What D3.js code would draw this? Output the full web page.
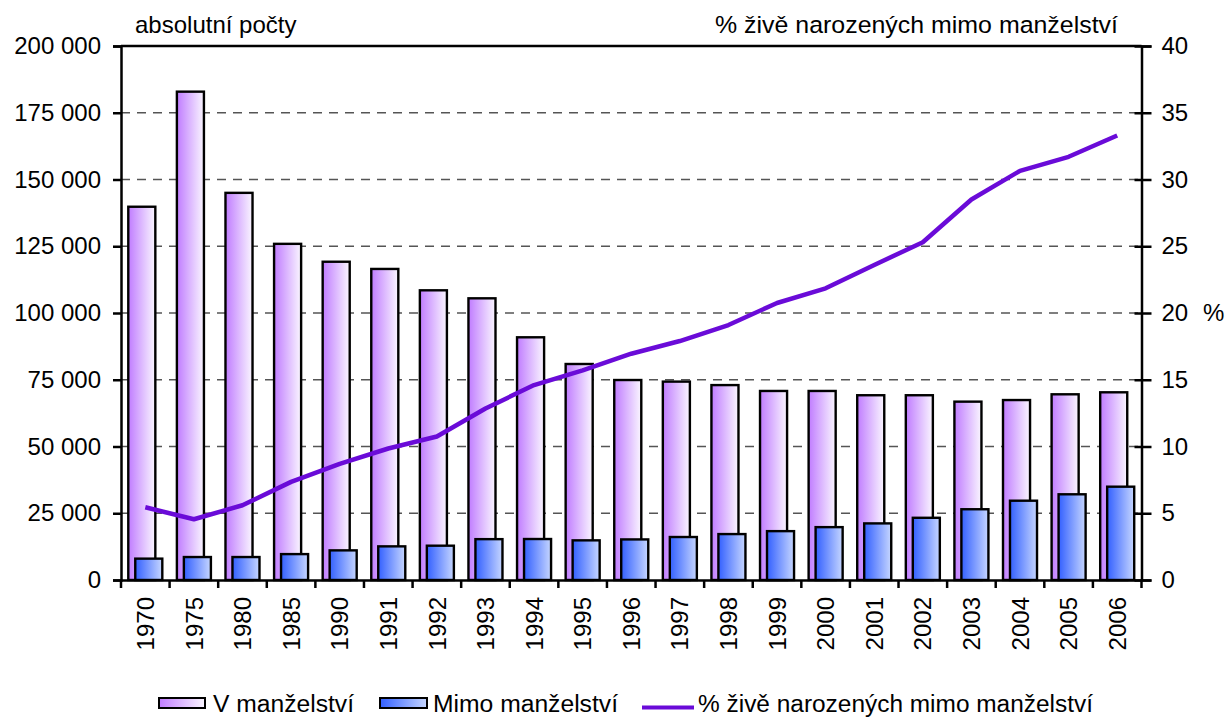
<!DOCTYPE html>
<html>
<head>
<meta charset="utf-8">
<script src="https://cdn.jsdelivr.net/npm/d3@7"></script>
<style>
  html, body { margin: 0; padding: 0; background: #fff; }
  svg { display: block; }
  text { font-family: "Liberation Sans", Arial, sans-serif; fill: #000; }
</style>
</head>
<body>
<svg id="chart" width="1227" height="722"></svg>
<script>
// ---- data ----
const years = ["1970","1975","1980","1985","1990","1991","1992","1993","1994","1995","1996","1997","1998","1999","2000","2001","2002","2003","2004","2005","2006"];
const vManzelstvi = [139800,182900,145000,125900,119200,116500,108500,105500,90900,80900,74900,74300,73000,70800,70800,69200,69200,66800,67400,69550,70300];
const mimoManzelstvi = [8000,8600,8600,9700,11100,12600,12850,15300,15350,14850,15200,16100,17200,18300,19800,21200,23300,26500,29700,32100,34950];
const pctMimo = [5.45,4.55,5.6,7.35,8.7,9.85,10.75,12.85,14.6,15.7,16.95,17.9,19.1,20.75,21.85,23.6,25.3,28.5,30.65,31.7,33.3];
const leftTicks = [0,25000,50000,75000,100000,125000,150000,175000,200000];
const rightTicks = [0,5,10,15,20,25,30,35,40];
const seriesNames = ["V manželství","Mimo manželství","% živě narozených mimo manželství"];
const leftTitle = "absolutní počty";
const rightTitle = "% živě narozených mimo manželství";
const rightUnit = "%";

// ---- layout ----
const svg = d3.select("#chart");
const L = 121, R = 1141.5, T = 46, B = 580;

const x = d3.scaleBand().domain(years).range([L, R]).paddingInner(0).paddingOuter(0);
const yL = d3.scaleLinear().domain([0, 200000]).range([B, T]);
const yR = d3.scaleLinear().domain([0, 40]).range([B, T]);

const fmt = v => d3.format(",")(v).replace(/,/g, " ");

// gradients
const defs = svg.append("defs");
function grad(id, c0, c1) {
  const g = defs.append("linearGradient").attr("id", id).attr("x1", "0%").attr("x2", "100%").attr("y1", "0%").attr("y2", "0%");
  g.append("stop").attr("offset", "0%").attr("stop-color", c0);
  g.append("stop").attr("offset", "100%").attr("stop-color", c1);
}
grad("gV", "#c07cff", "#faf6ff");
grad("gM", "#3360ff", "#c6d6ff");

// gridlines
svg.append("g").selectAll("line")
  .data(leftTicks.filter(t => t > 0 && t < 200000))
  .join("line")
  .attr("x1", L).attr("x2", R)
  .attr("y1", d => yL(d)).attr("y2", d => yL(d))
  .attr("stroke", "#555").attr("stroke-width", 1.3)
  .attr("stroke-dasharray", "9,7");

// bars
const bw = x.bandwidth();
const groupW = bw * 0.70;
const barW = groupW * 0.795;
const off = groupW - barW;
const g0 = (bw - groupW) / 2;

svg.append("g").selectAll("rect")
  .data(years.map((y, i) => ({ y, v: vManzelstvi[i] })))
  .join("rect")
  .attr("x", d => x(d.y) + g0)
  .attr("y", d => yL(d.v))
  .attr("width", barW)
  .attr("height", d => B - yL(d.v))
  .attr("fill", "url(#gV)")
  .attr("stroke", "#000").attr("stroke-width", 2.4);

svg.append("g").selectAll("rect")
  .data(years.map((y, i) => ({ y, v: mimoManzelstvi[i] })))
  .join("rect")
  .attr("x", d => x(d.y) + g0 + off)
  .attr("y", d => yL(d.v))
  .attr("width", barW)
  .attr("height", d => B - yL(d.v))
  .attr("fill", "url(#gM)")
  .attr("stroke", "#000").attr("stroke-width", 2.4);

// line
const line = d3.line()
  .x((d, i) => x(years[i]) + bw / 2)
  .y(d => yR(d));
svg.append("path")
  .datum(pctMimo)
  .attr("d", line)
  .attr("fill", "none")
  .attr("stroke", "#6a0bd8")
  .attr("stroke-width", 4.5)
  .attr("stroke-linejoin", "round");

// frame top
svg.append("line").attr("x1", L).attr("x2", R).attr("y1", T).attr("y2", T)
  .attr("stroke", "#000").attr("stroke-width", 2.5);

// left axis
const axL = svg.append("g").attr("transform", `translate(${L},0)`)
  .call(d3.axisLeft(yL).tickValues(leftTicks).tickFormat(fmt).tickSize(8).tickPadding(12));
axL.select(".domain").attr("stroke", "#000").attr("stroke-width", 2.5);
axL.selectAll(".tick line").attr("stroke", "#000").attr("stroke-width", 2.5);
axL.selectAll(".tick text").attr("font-size", 24).attr("font-family", "Liberation Sans, Arial, sans-serif").attr("fill", "#000");

// right axis
const axR = svg.append("g").attr("transform", `translate(${R},0)`)
  .call(d3.axisRight(yR).tickValues(rightTicks).tickSize(10).tickPadding(10));
axR.select(".domain").attr("stroke", "#000").attr("stroke-width", 2.5);
axR.selectAll(".tick line").attr("stroke", "#000").attr("stroke-width", 2.5).attr("x1", -7);
axR.selectAll(".tick text").attr("font-size", 24).attr("font-family", "Liberation Sans, Arial, sans-serif").attr("fill", "#000");

// bottom axis
const axB = svg.append("g").attr("transform", `translate(0,${B})`)
  .call(d3.axisBottom(x).tickSize(0).tickPadding(0));
axB.select(".domain").attr("stroke", "#000").attr("stroke-width", 2.5);
axB.selectAll(".tick text")
  .attr("font-size", 24).attr("font-family", "Liberation Sans, Arial, sans-serif").attr("fill", "#000")
  .attr("text-anchor", "end")
  .attr("transform", "rotate(-90)")
  .attr("x", -17).attr("y", 0).attr("dy", "0.36em");
// category boundary ticks
const bounds = years.map(y => x(y)).concat([R]);
svg.append("g").selectAll("line").data(bounds).join("line")
  .attr("x1", d => d).attr("x2", d => d)
  .attr("y1", B).attr("y2", B + 8)
  .attr("stroke", "#000").attr("stroke-width", 2.5);

// titles
svg.append("text").attr("x", 135).attr("y", 33).attr("font-size", 24).text(leftTitle);
svg.append("text").attr("x", 1118).attr("y", 33).attr("font-size", 24.5).attr("text-anchor", "end")
  .attr("textLength", 403).attr("lengthAdjust", "spacingAndGlyphs").text(rightTitle);
svg.append("text").attr("x", 1203).attr("y", 321).attr("font-size", 24).text(rightUnit);

// legend
const lg = svg.append("g");
lg.append("rect").attr("x", 159).attr("y", 698).attr("width", 46).attr("height", 10)
  .attr("fill", "url(#gV)").attr("stroke", "#000").attr("stroke-width", 2);
lg.append("text").attr("x", 213).attr("y", 712).attr("font-size", 23)
  .attr("textLength", 141).attr("lengthAdjust", "spacingAndGlyphs").text(seriesNames[0]);
lg.append("rect").attr("x", 380).attr("y", 698).attr("width", 47).attr("height", 10)
  .attr("fill", "url(#gM)").attr("stroke", "#000").attr("stroke-width", 2);
lg.append("text").attr("x", 433).attr("y", 712).attr("font-size", 23)
  .attr("textLength", 185).attr("lengthAdjust", "spacingAndGlyphs").text(seriesNames[1]);
lg.append("line").attr("x1", 642).attr("x2", 694).attr("y1", 707.5).attr("y2", 707.5)
  .attr("stroke", "#6a0bd8").attr("stroke-width", 4);
lg.append("text").attr("x", 698).attr("y", 712).attr("font-size", 23)
  .attr("textLength", 395).attr("lengthAdjust", "spacingAndGlyphs").text(seriesNames[2]);
</script>
</body>
</html>
